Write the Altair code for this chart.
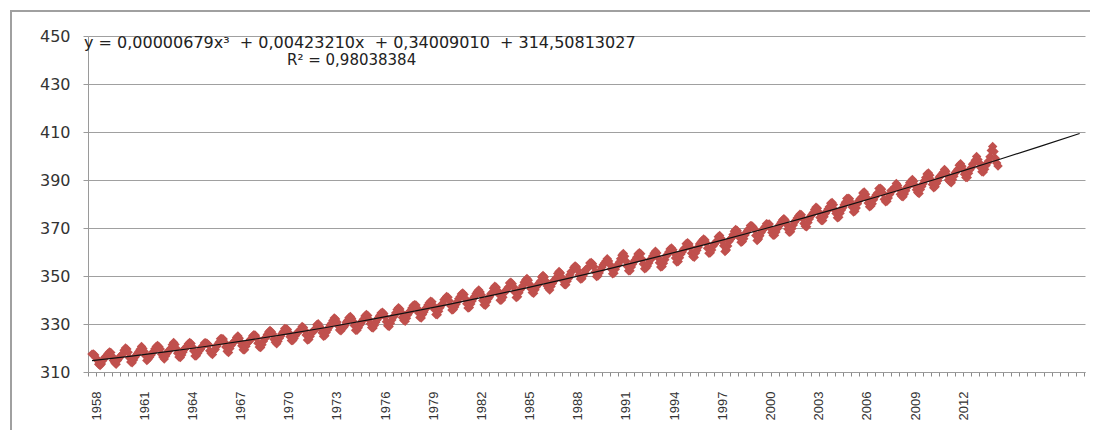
import altair as alt
import pandas as pd

# Monthly CO2 (ppm), Mauna Loa style record
co2_1950s = [  # Apr 1958 - Dec 1959
    317.45, 317.50, 317.10, 315.86, 314.93, 313.20, 312.66, 313.33, 314.67,
    315.62, 316.38, 316.71, 317.72, 318.29, 318.15, 316.54, 314.80, 313.84, 313.26, 314.80, 315.58,
]
co2_1960s = [
    316.43, 316.97, 317.58, 319.02, 320.03, 319.59, 318.18, 315.91, 314.16, 313.83, 315.00, 316.19,
    316.93, 317.70, 318.54, 319.48, 320.58, 319.77, 318.57, 316.79, 314.80, 315.38, 316.10, 317.01,
    317.94, 318.56, 319.68, 320.63, 321.01, 320.55, 319.58, 317.40, 316.26, 315.42, 316.69, 317.69,
    318.74, 319.08, 319.86, 321.39, 322.25, 321.47, 319.74, 317.77, 316.21, 315.99, 317.12, 318.31,
    319.57, 320.07, 320.73, 321.77, 322.25, 321.89, 320.44, 318.70, 316.70, 316.79, 317.79, 318.71,
    319.44, 320.44, 320.89, 322.13, 322.16, 321.87, 321.39, 318.81, 317.81, 317.30, 318.87, 319.42,
    320.62, 321.59, 322.39, 323.87, 324.01, 323.75, 322.39, 320.37, 318.64, 318.10, 319.79, 321.08,
    322.07, 322.50, 323.04, 324.42, 325.00, 324.09, 322.55, 320.92, 319.31, 319.31, 320.72, 321.96,
    322.57, 323.15, 323.89, 325.02, 325.57, 325.36, 324.14, 322.03, 320.41, 320.25, 321.31, 322.84,
    324.00, 324.42, 325.64, 326.66, 327.34, 326.76, 325.88, 323.67, 322.38, 321.78, 322.85, 324.11,
]
co2_1970s = [
    325.03, 325.99, 326.87, 328.13, 328.07, 327.66, 326.35, 324.69, 323.10, 323.16, 323.98, 325.13,
    326.17, 326.68, 327.18, 327.78, 328.92, 328.57, 327.34, 325.46, 323.36, 323.57, 324.80, 326.01,
    326.77, 327.63, 327.75, 329.72, 330.07, 329.09, 328.05, 326.32, 324.93, 325.06, 326.50, 327.55,
    328.54, 329.56, 330.30, 331.50, 332.48, 332.07, 330.87, 329.31, 327.51, 327.18, 328.16, 328.64,
    329.35, 330.71, 331.48, 332.65, 333.09, 332.25, 331.18, 329.40, 327.43, 327.37, 328.46, 329.57,
    330.40, 331.40, 332.04, 333.31, 333.96, 333.59, 331.91, 330.06, 328.56, 328.34, 329.49, 330.76,
    331.75, 332.56, 333.50, 334.58, 334.87, 334.34, 333.05, 330.94, 329.30, 328.94, 330.31, 331.68,
    332.93, 333.42, 334.70, 336.07, 336.74, 336.27, 334.93, 332.75, 331.58, 331.16, 332.40, 333.85,
    334.97, 335.39, 336.64, 337.76, 338.01, 337.89, 336.54, 334.68, 332.76, 332.54, 333.92, 334.95,
    336.23, 336.76, 337.96, 338.89, 339.47, 339.29, 337.73, 336.09, 333.91, 333.86, 335.29, 336.73,
]
co2_1980s = [
    338.01, 338.36, 340.08, 340.77, 341.46, 341.17, 339.56, 337.60, 335.88, 336.01, 337.10, 338.21,
    339.23, 340.47, 341.38, 342.51, 342.91, 342.25, 340.49, 338.43, 336.69, 336.85, 338.36, 339.61,
    340.75, 341.61, 342.70, 343.56, 344.13, 343.35, 342.06, 339.82, 337.97, 337.86, 339.26, 340.49,
    341.38, 342.52, 343.10, 344.94, 345.75, 345.32, 343.99, 342.39, 339.86, 339.99, 341.16, 342.99,
    343.70, 344.51, 345.28, 347.08, 347.43, 346.79, 345.40, 343.28, 341.07, 341.35, 342.98, 344.22,
    344.97, 345.99, 347.42, 348.35, 348.93, 348.25, 346.56, 344.67, 343.09, 342.80, 344.24, 345.56,
    346.29, 346.96, 347.86, 349.55, 350.21, 349.55, 347.94, 345.91, 344.86, 344.17, 345.66, 346.90,
    348.02, 348.47, 349.42, 350.99, 351.84, 351.25, 349.52, 348.10, 346.44, 346.36, 347.81, 348.96,
    350.43, 351.72, 352.22, 353.59, 354.22, 353.79, 352.39, 350.44, 348.72, 348.88, 350.07, 351.34,
    352.76, 353.07, 353.68, 355.42, 355.67, 355.13, 353.90, 351.67, 349.80, 349.99, 351.30, 352.53,
]
co2_1990s = [
    353.66, 354.70, 355.39, 356.20, 357.16, 356.22, 354.82, 352.91, 350.96, 351.18, 352.83, 354.21,
    354.72, 355.75, 357.16, 358.60, 359.34, 358.24, 356.17, 354.02, 352.15, 352.21, 353.75, 354.99,
    355.99, 356.72, 357.81, 359.15, 359.66, 359.25, 357.02, 355.00, 353.01, 353.31, 354.16, 355.40,
    356.70, 357.17, 358.38, 359.46, 360.28, 359.60, 357.57, 355.52, 353.70, 353.98, 355.33, 356.80,
    358.36, 358.91, 359.97, 361.26, 361.68, 360.95, 359.55, 357.49, 355.84, 356.00, 357.59, 359.05,
    359.98, 361.03, 361.66, 363.48, 363.82, 363.30, 361.94, 359.50, 358.11, 357.80, 359.61, 360.74,
    362.09, 363.29, 364.06, 364.76, 365.45, 365.01, 363.70, 361.54, 359.51, 359.65, 360.80, 362.38,
    363.23, 364.06, 364.61, 366.40, 366.84, 365.68, 364.52, 362.57, 360.24, 360.83, 362.49, 364.34,
    365.27, 365.98, 367.24, 368.66, 369.42, 368.99, 367.82, 365.95, 364.02, 364.40, 365.52, 367.13,
    368.18, 369.07, 369.68, 370.99, 370.96, 370.30, 369.45, 366.90, 364.81, 365.37, 366.72, 368.10,
]
co2_2000s = [
    369.29, 369.54, 370.60, 371.82, 371.58, 371.70, 369.86, 368.13, 367.00, 367.03, 368.37, 369.67,
    370.59, 371.51, 372.43, 373.37, 373.85, 373.21, 371.51, 369.61, 368.18, 368.45, 369.76, 371.24,
    372.53, 373.20, 374.12, 375.02, 375.76, 375.52, 374.01, 371.85, 370.75, 370.55, 372.25, 373.79,
    374.88, 375.64, 376.45, 377.73, 378.60, 378.28, 376.70, 374.38, 373.17, 373.15, 374.66, 375.99,
    377.00, 377.87, 378.88, 380.35, 380.62, 379.69, 377.47, 376.01, 374.25, 374.46, 376.16, 377.51,
    378.46, 379.73, 380.77, 382.29, 382.45, 382.21, 380.74, 378.74, 376.70, 377.00, 378.35, 380.11,
    381.38, 382.19, 382.67, 384.61, 385.03, 384.05, 382.46, 380.41, 378.85, 379.13, 380.15, 381.82,
    382.89, 383.90, 384.58, 386.50, 386.56, 386.10, 384.50, 381.99, 380.96, 381.12, 382.45, 383.95,
    385.52, 385.82, 386.03, 387.21, 388.54, 387.76, 386.36, 384.09, 383.18, 382.99, 384.19, 385.56,
    386.94, 387.48, 388.82, 389.46, 390.18, 389.43, 387.74, 385.91, 384.77, 384.38, 385.99, 387.26,
]
co2_2010s = [  # Jan 2010 - Sep 2014
    388.45, 389.70, 391.08, 392.46, 392.96, 392.03, 390.13, 388.15, 386.80, 387.18, 388.59, 389.68,
    391.19, 391.78, 392.41, 393.18, 394.36, 393.68, 392.04, 389.99, 389.42, 388.88, 390.07, 391.53,
    393.04, 393.64, 394.46, 396.12, 396.78, 395.77, 394.30, 392.41, 391.06, 391.01, 392.84, 394.23,
    395.15, 396.53, 397.05, 398.26, 399.76, 398.58, 397.20, 395.16, 393.46, 393.38, 394.43, 396.02,
    397.04, 397.92, 399.66, 402.30, 404.00, 401.90, 399.11, 397.05, 395.80,
]

first_month = 3  # months after Jan 1958 of the first value (April 1958)
first_label_year = 1958
NB = "\u00a0"
trend_equation = f"y = 0,00000679x³{NB} + 0,00423210x{NB} + 0,34009010{NB} + 314,50813027"
trend_r2 = "R² = 0,98038384"
y_ticks = [310, 330, 350, 370, 390, 410, 430, 450]

values = co2_1950s + co2_1960s + co2_1970s + co2_1980s + co2_1990s + co2_2000s + co2_2010s
df = pd.DataFrame({"t": list(range(first_month, first_month + len(values))), "co2": values})
last_t = first_month + len(values) - 1

W, H = 997, 336
T_MAX = 745

x_scale = alt.Scale(domain=[0, T_MAX], nice=False, zero=False)
y_scale = alt.Scale(domain=[310, 450], nice=False, zero=False)


def x_axis():
    return alt.Axis(
        values=list(range(0, T_MAX + 1, 6)),
        labelExpr=(
            f"datum.value % 36 == 0 && datum.value <= {last_t} "
            f"? toString({first_label_year} + datum.value / 12) : ''"
        ),
        labelAngle=270, labelOffset=8, labelPadding=15, labelFlush=False, labelOverlap=False,
        labelFont="Liberation Sans", labelFontSize=13, labelColor="#333333",
        ticks=True, tickSize=4, tickWidth=1, tickColor="#8a8a8a", domainColor="#9a9a9a",
        grid=False, title=None,
    )


def y_axis():
    return alt.Axis(
        values=y_ticks, grid=True, gridColor="#a0a0a0", gridWidth=1,
        domainColor="#9a9a9a", tickColor="#9a9a9a", tickSize=5,
        labelFont="DejaVu Sans", labelFontSize=16, labelColor="#333333", labelPadding=13,
        title=None,
    )


base = alt.Chart(df)

points = base.mark_point(
    shape="diamond", filled=True, size=90, opacity=1, color="#c0504d"
).encode(
    x=alt.X("t:Q", scale=x_scale, axis=x_axis()),
    y=alt.Y("co2:Q", scale=y_scale, axis=y_axis()),
)

trend = base.transform_regression(
    "t", "co2", method="poly", order=3, extent=[first_month, 741]
).mark_line(color="#111111", strokeWidth=1.2).encode(
    x=alt.X("t:Q", scale=x_scale, axis=x_axis()),
    y=alt.Y("co2:Q", scale=y_scale, axis=y_axis()),
)

one = alt.Data(values=[{"k": 1}])
border_left = alt.Chart(one).mark_rule(color="#a0a0a0", strokeWidth=2).encode(
    x=alt.value(-77), y=alt.value(-26), y2=alt.value(700)
)
border_top = alt.Chart(one).mark_rule(color="#a0a0a0", strokeWidth=2).encode(
    x=alt.value(-78), x2=alt.value(1300), y=alt.value(-25)
)
eq1 = alt.Chart(one).mark_text(
    align="left", baseline="middle", font="DejaVu Sans", fontSize=16, color="#222222"
).encode(x=alt.value(-4), y=alt.value(7), text=alt.value(trend_equation))
eq2 = alt.Chart(one).mark_text(
    align="left", baseline="middle", font="DejaVu Sans", fontSize=15, color="#222222"
).encode(x=alt.value(199), y=alt.value(24), text=alt.value(trend_r2))

chart = alt.layer(border_left, border_top, points, trend, eq1, eq2).properties(
    width=W, height=H,
    autosize=alt.AutoSizeParams(type="none"),
    padding={"left": 80, "top": 28, "right": 5, "bottom": 58},
).configure_view(strokeWidth=0).configure_axis(labelOverlap=False)

chart.save("out.html", embed_options={"renderer": "svg", "actions": False})
